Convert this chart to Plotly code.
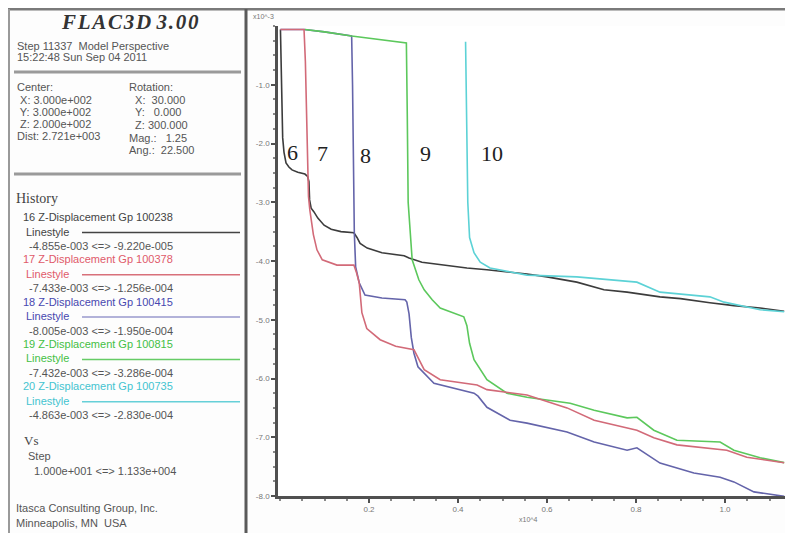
import plotly.graph_objects as go

# ---------------- data (steps, z-displacement in 1e-3 m) ----------------
black_steps = [10, 25, 40, 60, 90, 135, 200, 270, 400, 560, 620, 650, 665, 700, 760, 850, 990, 1150,
               1370, 1660, 1730, 1800, 1960, 2290, 2790, 2900, 3190, 3750, 4200, 4650, 5550, 6000,
               6670, 7280, 7800, 8540, 9000, 9660, 10200, 10790, 11330]
black_disp = [-0.06, -0.6, -1.3, -1.9, -2.15, -2.33, -2.40, -2.45, -2.49, -2.52, -2.56, -2.65, -2.96,
              -3.10, -3.16, -3.27, -3.39, -3.46, -3.50, -3.52, -3.60, -3.70, -3.78, -3.86, -3.91,
              -3.95, -4.02, -4.08, -4.12, -4.15, -4.22, -4.27, -4.36, -4.49, -4.53, -4.61, -4.64,
              -4.71, -4.76, -4.80, -4.855]

red_steps = [10, 540, 570, 590, 610, 640, 670, 750, 830, 950, 1280, 1660, 1720, 1780, 1840, 1950,
             2250, 2600, 3010, 3070, 3120, 3240, 3600, 4430, 4650, 5550, 6450, 7060, 8020, 8400,
             8920, 10040, 10490, 11330]
red_disp = [-0.06, -0.06, -0.6, -1.4, -2.3, -2.9, -3.13, -3.55, -3.81, -3.98, -4.07, -4.07, -4.2,
            -4.37, -4.88, -5.15, -5.34, -5.45, -5.51, -5.6, -5.68, -5.85, -6.02, -6.11, -6.19,
            -6.28, -6.50, -6.71, -6.88, -7.01, -7.13, -7.22, -7.34, -7.433]

blue_steps = [10, 540, 1000, 1610, 1630, 1650, 1670, 1700, 1780, 1910, 2290, 2810, 2850, 2900, 2950,
              3010, 3100, 3460, 4360, 4450, 4550, 4650, 5170, 5550, 6450, 7060, 7800, 8020, 8540,
              9300, 9890, 10200, 10650, 11100, 11330]
blue_disp = [-0.06, -0.06, -0.10, -0.17, -1.0, -2.5, -3.52, -4.10, -4.37, -4.58, -4.63, -4.66, -4.7,
             -4.9, -5.3, -5.57, -5.8, -6.08, -6.25, -6.3, -6.4, -6.49, -6.71, -6.76, -6.91, -7.08,
             -7.22, -7.18, -7.44, -7.61, -7.68, -7.76, -7.93, -7.98, -8.005]

green_steps = [560, 1000, 1610, 2200, 2840, 2860, 2880, 2970, 3120, 3240, 3420, 3600, 4130, 4200,
               4260, 4360, 4650, 5100, 5550, 6520, 7060, 7800, 8020, 8400, 8920, 9890, 10200,
               10790, 11330]
green_disp = [-0.06, -0.10, -0.17, -0.23, -0.29, -1.5, -3.0, -3.98, -4.32, -4.49, -4.66, -4.80,
              -4.95, -5.1, -5.4, -5.68, -6.02, -6.25, -6.32, -6.42, -6.54, -6.67, -6.66, -6.88,
              -7.05, -7.08, -7.22, -7.35, -7.432]

cyan_steps = [4170, 4190, 4220, 4260, 4360, 4500, 4720, 5550, 6670, 8020, 8540, 9660, 9980,
              10790, 11330]
cyan_disp = [-0.27, -1.5, -3.0, -3.6, -3.86, -4.02, -4.12, -4.24, -4.27, -4.36, -4.53, -4.61,
             -4.70, -4.83, -4.863]

y_ticks = [-1.0, -2.0, -3.0, -4.0, -5.0, -6.0, -7.0, -8.0]
x_ticks = [0.2, 0.4, 0.6, 0.8, 1.0]

stage_labels = ["6", "7", "8", "9", "10"]

history_lines = [
    ("16 Z-Displacement Gp 100238", "-4.855e-003 <=> -9.220e-005", "#444444", "#444444"),
    ("17 Z-Displacement Gp 100378", "-7.433e-003 <=> -1.256e-004", "#e05a6a", "#d8707a"),
    ("18 Z-Displacement Gp 100415", "-8.005e-003 <=> -1.950e-004", "#4848b0", "#9898cc"),
    ("19 Z-Displacement Gp 100815", "-7.432e-003 <=> -3.286e-004", "#44c044", "#66cc66"),
    ("20 Z-Displacement Gp 100735", "-4.863e-003 <=> -2.830e-004", "#44c4d0", "#66d0d8"),
]

# ---------------- figure ----------------
# the page body adds an 8px margin, so the figure is 8px smaller and every
# reference pixel coordinate is shifted by that offset
OFF = 8
FW, FH = 793 - OFF, 533 - OFF
PL, PT, PR, PB = 278, 26, 782, 496          # plot area in reference pixels
L, T = PL - OFF, PT - OFF
R, B = FW - (PR - OFF) - 3, FH - (PB - OFF)
W = FW - L - R
H = FH - T - B


def px(x):
    return (x - PL) / W


def py(y):
    return 1 - (y - PT) / H


fig = go.Figure()

series = [
    (black_steps, black_disp, "#3c3c3c"),
    (blue_steps, blue_disp, "#6464aa"),
    (cyan_steps, cyan_disp, "#5cd2d6"),
    (green_steps, green_disp, "#5cc85c"),
    (red_steps, red_disp, "#d26a78"),
]
for st, dv, col in series:
    fig.add_trace(go.Scatter(x=[s * 1e-4 for s in st], y=dv, mode="lines",
                             line=dict(color=col, width=1.6), showlegend=False,
                             hoverinfo="skip"))

axis_col = "#505050"
xr0 = -0.0045
xr1 = xr0 + W / 445.0
fig.update_xaxes(range=[xr0, xr1], tickvals=x_ticks, ticktext=[f"{v:.1f}" for v in x_ticks],
                 showgrid=False, zeroline=False, showline=True, linecolor=axis_col, linewidth=2.5,
                 ticks="outside", ticklen=4, tickwidth=1.5, tickcolor=axis_col,
                 minor=dict(dtick=0.05, ticks="outside", ticklen=2, tickcolor="#888888"),
                 tickfont=dict(family="Liberation Sans", size=8, color="#777777"))
fig.update_yaxes(range=[-8.0, 0.0], tickvals=y_ticks, ticktext=[f"{v:.1f}" for v in y_ticks],
                 showgrid=False, zeroline=False, showline=True, linecolor=axis_col, linewidth=2.5,
                 ticks="outside", ticklen=4, tickwidth=1.5, tickcolor=axis_col,
                 minor=dict(dtick=0.25, ticks="outside", ticklen=2, tickcolor="#888888"),
                 tickfont=dict(family="Liberation Sans", size=8, color="#777777"))

ann = []
shapes = []


def text(x, y, s, size=10, color="#555555", family="Liberation Sans", anchor="left"):
    ann.append(dict(x=px(x), y=py(y), xref="paper", yref="paper", text=s, showarrow=False,
                    xanchor=anchor, yanchor="middle",
                    font=dict(size=size, color=color, family=family)))


def hline(x0, x1, y, color, width):
    shapes.append(dict(type="line", xref="paper", yref="paper", x0=px(x0), x1=px(x1),
                       y0=py(y), y1=py(y), line=dict(color=color, width=width)))


def vline(x, y0, y1, color, width):
    shapes.append(dict(type="line", xref="paper", yref="paper", x0=px(x), x1=px(x),
                       y0=py(y0), y1=py(y1), line=dict(color=color, width=width)))


# frame
hline(8, 800, 9, "#7a7a7a", 3)
vline(9, 9, 540, "#9a9a9a", 2)
vline(246, 9, 540, "#5a5a5a", 3)
hline(14, 241, 72, "#9a9a9a", 3)
hline(14, 241, 174, "#9a9a9a", 3)

# stage labels
for lab, (x, y) in zip(stage_labels, [(292, 152), (322, 153), (365, 155), (425, 153), (492, 153)]):
    text(x, y, lab, size=22, color="#222222", family="Liberation Serif", anchor="center")

# exponent labels
text(251, 17, "x10^-3", size=7, color="#777777")
text(517, 519, "x10^4", size=7, color="#777777")

# left panel
title = "\u200a".join("FLAC3D") + " " + "\u200a".join("3.00")
text(130, 22, "<b><i>" + title + "</i></b>", size=21, color="#333333", family="Liberation Serif",
     anchor="center")
text(15, 46, "Step 11337  Model Perspective", size=11)
text(15, 57, "15:22:48 Sun Sep 04 2011", size=11)
text(15, 87, "Center:", size=11)
text(127, 87, "Rotation:", size=11)
left_rows = [" X: 3.000e+002", " Y: 3.000e+002", " Z: 2.000e+002", "Dist: 2.721e+003"]
right_rows = ["  X:  30.000", "  Y:   0.000", "  Z: 300.000", "Mag.:   1.25", "Ang.:  22.500"]
for i, s in enumerate(left_rows):
    text(15, 100 + 12 * i, s, size=11)
for i, s in enumerate(right_rows):
    text(127, 100 + 12.5 * i, s, size=11)

text(14, 198, "History", size=14, color="#444444", family="Liberation Serif")
y0 = 217
for i, (name, rng, tcol, lcol) in enumerate(history_lines):
    yb = y0 + i * 42.3
    text(21, yb, name, size=11, color=tcol)
    text(24, yb + 14.5, "Linestyle", size=11, color=tcol)
    hline(82, 240, yb + 15.5, lcol, 1.5)
    text(27, yb + 29, rng, size=11, color="#555555")

text(22, 440, "Vs", size=13, color="#444444", family="Liberation Serif")
text(26, 456, "Step", size=11)
text(32, 471, "1.000e+001 <=> 1.133e+004", size=11)
text(14, 508, "Itasca Consulting Group, Inc.", size=11)
text(14, 523, "Minneapolis, MN  USA", size=11)

fig.update_layout(width=FW, height=FH, margin=dict(l=L, r=R, t=T, b=B),
                  paper_bgcolor="#fdfdfd", plot_bgcolor="#ffffff",
                  annotations=ann, shapes=shapes, showlegend=False)

fig.write_html("out.html")
